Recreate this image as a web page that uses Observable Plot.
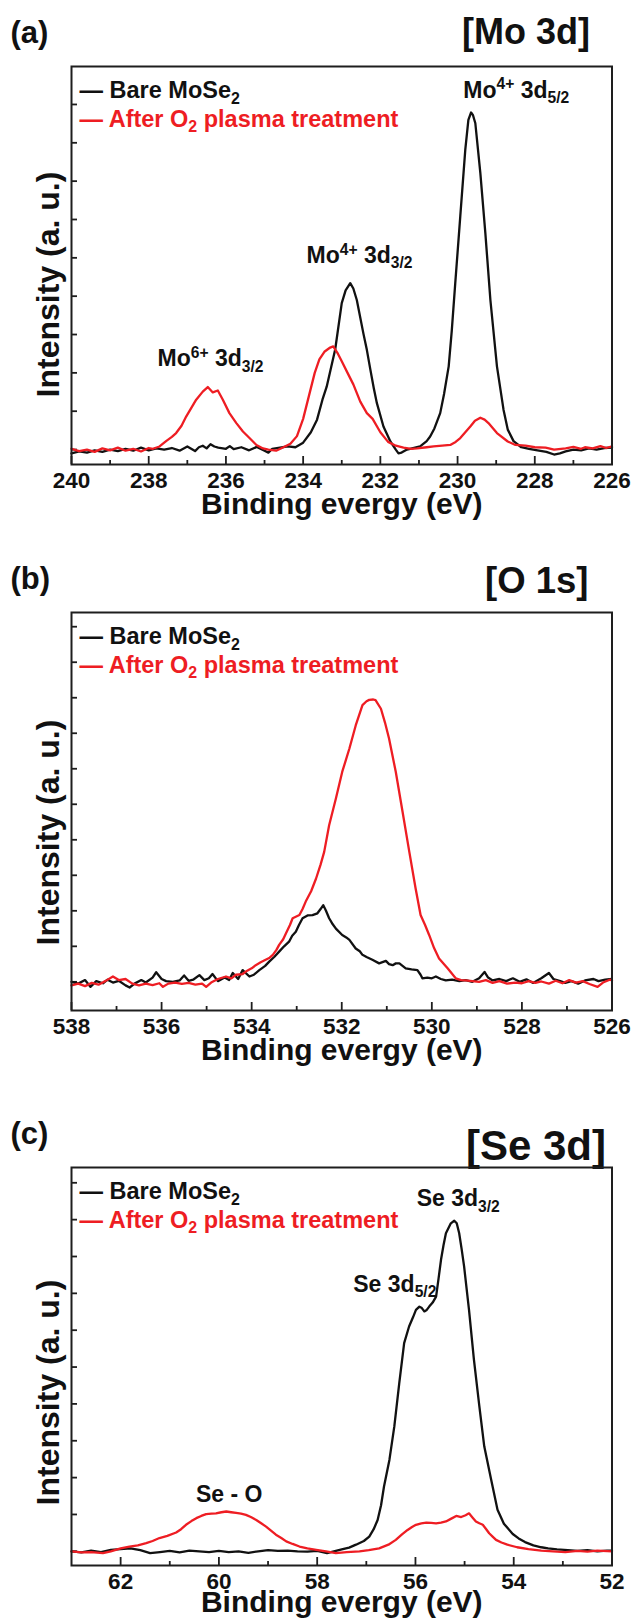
<!DOCTYPE html>
<html><head><meta charset="utf-8">
<script src="https://cdn.jsdelivr.net/npm/d3@7"></script>
<script src="https://cdn.jsdelivr.net/npm/@observablehq/plot@0.6"></script>
<style>
body{margin:0;background:#fff;}
#root{position:relative;width:633px;height:1619px;overflow:hidden;background:#fff;}
#root svg{position:absolute;left:0;overflow:visible;}
</style></head><body><div id="root"></div>
<script>
const FONT = '"Liberation Sans", Arial, Helvetica, sans-serif';
const BLACK = "#111111", RED = "#ee1d23", AXIS = "#1e1e1e";

// ---------- series names ----------
const seriesNames = ["— Bare MoSe_{2}", "— After O_{2} plasma treatment"];
const xTitle = "Binding evergy (eV)";
const yTitle = "Intensity (a. u.)";

// ---------- Panel (a) Mo 3d : [binding energy eV, intensity a.u.] ----------
const mo3dBare = [
[240.0,-0.10],[239.8,-0.05],[239.6,-0.08],[239.4,-0.02],[239.2,-0.06],[239.0,0.00],[238.8,-0.04],[238.6,0.02],
[238.4,-0.03],[238.2,0.05],[238.0,-0.02],[237.8,0.03],[237.6,0.00],[237.4,0.04],[237.2,-0.03],[237.0,0.08],
[236.9,0.02],[236.8,-0.04],[236.7,0.06],[236.6,0.10],[236.5,0.03],[236.4,0.14],[236.3,0.08],[236.2,0.05],
[236.0,0.02],[235.9,0.09],[235.8,0.01],[235.6,0.06],[235.4,-0.02],[235.2,0.07],[235.0,-0.03],[234.9,-0.08],
[234.8,0.02],[234.6,0.05],[234.4,0.08],[234.2,0.06],[234.0,0.18],[233.8,0.45],[233.64,0.78],[233.5,1.30],
[233.39,1.64],[233.17,2.61],[233.0,3.82],[232.9,4.15],[232.78,4.34],[232.7,4.20],[232.61,3.90],[232.44,3.03],
[232.35,2.60],[232.26,2.09],[232.17,1.60],[232.09,1.21],[231.92,0.60],[231.74,0.21],[231.6,0.00],[231.53,-0.10],
[231.45,-0.08],[231.31,0.00],[231.1,0.05],[230.97,0.08],[230.8,0.22],[230.71,0.34],[230.6,0.55],[230.45,0.95],
[230.35,1.45],[230.23,2.17],[230.15,3.10],[230.06,4.34],[229.93,6.08],[229.8,7.82],[229.72,8.60],[229.65,8.79],
[229.6,8.72],[229.54,8.51],[229.41,7.21],[229.28,5.64],[229.15,3.90],[228.98,2.17],[228.81,1.04],[228.7,0.52],
[228.55,0.22],[228.35,0.06],[228.15,0.02],[227.93,-0.02],[227.7,-0.06],[227.5,-0.13],[227.35,-0.10],[227.2,-0.05],
[227.0,0.00],[226.8,-0.02],[226.6,0.03],[226.4,0.00],[226.2,0.04],[226.0,0.05]
];
const mo3dO2 = [
[240.0,0.02],[239.8,-0.04],[239.6,0.00],[239.4,-0.06],[239.2,0.03],[239.0,-0.02],[238.8,0.05],[238.6,-0.03],
[238.4,0.02],[238.2,-0.05],[238.0,0.04],[237.89,0.02],[237.72,0.08],[237.55,0.22],[237.4,0.33],[237.29,0.43],
[237.15,0.62],[237.03,0.86],[236.9,1.08],[236.77,1.30],[236.6,1.51],[236.47,1.63],[236.34,1.49],[236.21,1.54],
[236.08,1.30],[235.91,0.95],[235.73,0.69],[235.56,0.47],[235.39,0.30],[235.21,0.12],[235.04,0.03],[234.9,0.00],
[234.7,-0.03],[234.51,0.06],[234.33,0.15],[234.16,0.35],[234.0,0.80],[233.85,1.40],[233.7,2.00],[233.58,2.35],
[233.45,2.55],[233.3,2.66],[233.22,2.69],[233.1,2.50],[233.0,2.30],[232.85,2.00],[232.7,1.70],[232.52,1.25],
[232.35,0.95],[232.2,0.80],[232.0,0.45],[231.8,0.20],[231.6,0.10],[231.4,0.05],[231.2,0.02],[231.05,0.03],
[230.8,0.06],[230.62,0.08],[230.4,0.10],[230.19,0.12],[230.05,0.20],[229.93,0.30],[229.8,0.45],[229.67,0.60],
[229.55,0.75],[229.41,0.83],[229.3,0.78],[229.2,0.69],[228.98,0.43],[228.7,0.21],[228.5,0.12],[228.24,0.10],
[228.0,0.06],[227.72,0.05],[227.5,0.00],[227.2,0.03],[227.0,0.07],[226.8,0.02],[226.7,0.06],[226.5,0.03],
[226.3,0.09],[226.15,0.04],[226.0,0.08]
];
const mo3dNotes = [
  {e: 236.4, v: 2.17, label: "Mo^{6+} 3d_{3/2}"},
  {e: 232.54, v: 4.87, label: "Mo^{4+} 3d_{3/2}"},
  {e: 228.48, v: 9.18, label: "Mo^{4+} 3d_{5/2}"}
];
const mo3dMajor = [240, 238, 236, 234, 232, 230, 228, 226];
const mo3dMinor = [239, 237, 235, 233, 231, 229, 227];
const mo3dYTicks = [0, 1, 2, 3, 4, 5, 6, 7, 8, 9];

// ---------- Panel (b) O 1s ----------
const o1sBare = [
[538.0,0.00],[537.85,-0.05],[537.7,0.05],[537.58,-0.14],[537.45,0.02],[537.3,-0.04],[537.2,0.06],[537.08,-0.02],
[536.95,0.03],[536.8,-0.10],[536.71,-0.16],[536.6,-0.05],[536.45,0.05],[536.35,-0.02],[536.2,0.12],[536.12,0.27],
[536.0,0.08],[535.9,0.02],[535.75,0.00],[535.6,0.04],[535.5,0.18],[535.4,0.03],[535.3,0.06],[535.16,0.19],
[535.05,0.05],[534.95,0.10],[534.87,0.22],[534.75,0.02],[534.6,0.12],[534.5,0.05],[534.42,0.25],[534.3,0.08],
[534.2,0.33],[534.05,0.15],[533.95,0.20],[533.83,0.33],[533.7,0.45],[533.61,0.57],[533.5,0.70],[533.39,0.85],
[533.28,1.00],[533.17,1.13],[533.1,1.30],[533.02,1.41],[532.95,1.60],[532.87,1.79],[532.76,1.87],[532.65,1.88],
[532.54,1.93],[532.47,2.05],[532.41,2.16],[532.35,2.00],[532.28,1.79],[532.2,1.62],[532.13,1.50],[531.99,1.32],
[531.9,1.25],[531.83,1.18],[531.69,0.94],[531.6,0.86],[531.54,0.76],[531.45,0.70],[531.32,0.62],[531.17,0.52],
[531.02,0.59],[530.95,0.50],[530.87,0.47],[530.8,0.52],[530.72,0.52],[530.65,0.45],[530.58,0.38],[530.45,0.35],
[530.32,0.33],[530.25,0.20],[530.21,0.10],[530.1,0.12],[530.0,0.10],[529.91,0.15],[529.8,0.08],[529.69,0.04],
[529.55,0.06],[529.39,0.02],[529.25,0.05],[529.1,0.00],[528.95,0.10],[528.83,0.28],[528.75,0.12],[528.65,0.04],
[528.5,0.08],[528.35,0.02],[528.2,0.10],[528.05,0.00],[527.9,0.07],[527.75,-0.03],[527.57,0.10],[527.4,0.25],
[527.3,0.08],[527.15,0.02],[527.04,-0.03],[526.9,0.02],[526.75,-0.05],[526.6,0.04],[526.41,0.08],[526.3,0.02],
[526.15,0.06],[526.0,0.08]
];
const o1sO2 = [
[538.0,-0.10],[537.85,-0.05],[537.7,-0.12],[537.55,-0.03],[537.4,-0.08],[537.25,0.02],[537.08,0.15],[536.95,0.05],
[536.8,0.08],[536.65,-0.05],[536.5,-0.10],[536.35,-0.05],[536.2,-0.09],[536.05,-0.04],[535.97,-0.14],[535.85,-0.05],
[535.7,-0.02],[535.55,-0.06],[535.4,-0.03],[535.25,-0.08],[535.1,-0.05],[535.01,-0.14],[534.9,-0.02],[534.75,0.08],
[534.57,0.15],[534.45,0.10],[534.35,0.20],[534.2,0.22],[534.13,0.29],[534.0,0.38],[533.91,0.47],[533.8,0.55],
[533.69,0.62],[533.6,0.68],[533.53,0.76],[533.45,0.90],[533.39,1.04],[533.3,1.20],[533.24,1.36],[533.15,1.60],
[533.09,1.79],[532.94,1.88],[532.87,2.05],[532.8,2.26],[532.68,2.55],[532.57,2.91],[532.47,3.30],[532.39,3.66],
[532.28,4.41],[532.13,5.16],[531.99,5.91],[531.83,6.57],[531.69,7.22],[531.54,7.79],[531.45,7.90],[531.39,7.94],
[531.3,7.95],[531.25,7.93],[531.13,7.69],[531.04,7.30],[530.95,6.85],[530.8,5.91],[530.65,4.79],[530.5,3.66],
[530.36,2.63],[530.25,1.88],[530.15,1.60],[530.06,1.32],[529.95,0.95],[529.84,0.66],[529.65,0.38],[529.47,0.10],
[529.35,0.05],[529.25,0.04],[529.1,0.02],[528.95,0.00],[528.8,0.05],[528.65,-0.03],[528.5,0.02],[528.33,-0.05],
[528.15,-0.02],[528.0,-0.04],[527.85,0.02],[527.7,-0.03],[527.57,0.01],[527.4,-0.05],[527.25,0.03],[527.1,-0.04],
[526.95,0.05],[526.8,-0.02],[526.65,0.02],[526.5,-0.06],[526.32,-0.14],[526.2,-0.02],[526.05,0.06],[526.0,0.04]
];
const o1sNotes = [];
const o1sMajor = [538, 536, 534, 532, 530, 528, 526];
const o1sMinor = [537, 535, 533, 531, 529, 527];
const o1sYTicks = [0, 1, 2, 3, 4, 5, 6, 7, 8, 9, 10];

// ---------- Panel (c) Se 3d ----------
const se3dBare = [
[63.0,0.00],[62.8,-0.03],[62.6,0.02],[62.4,-0.02],[62.2,0.04],[62.0,0.06],[61.8,0.08],[61.6,0.03],
[61.4,-0.05],[61.2,-0.02],[61.0,0.01],[60.8,-0.03],[60.6,0.02],[60.4,0.00],[60.2,-0.02],[60.0,0.01],
[59.8,-0.02],[59.6,0.00],[59.4,-0.04],[59.2,0.00],[59.0,0.03],[58.8,0.01],[58.6,0.02],[58.4,0.00],
[58.2,-0.01],[58.0,0.01],[57.8,-0.05],[57.6,0.02],[57.48,0.06],[57.35,0.10],[57.21,0.18],[57.05,0.28],
[56.94,0.40],[56.85,0.60],[56.77,0.85],[56.7,1.25],[56.64,1.76],[56.53,2.48],[56.43,3.39],[56.33,4.56],
[56.23,5.65],[56.13,6.10],[56.05,6.35],[55.99,6.55],[55.92,6.64],[55.87,6.60],[55.82,6.51],[55.77,6.55],
[55.72,6.64],[55.65,6.75],[55.58,6.91],[55.53,7.40],[55.48,7.91],[55.43,8.30],[55.38,8.63],[55.28,8.90],
[55.21,8.97],[55.16,8.90],[55.11,8.63],[55.06,8.20],[55.01,7.73],[54.91,6.55],[54.81,5.20],[54.7,3.94],
[54.6,2.85],[54.46,1.95],[54.33,1.13],[54.2,0.75],[54.02,0.47],[53.9,0.35],[53.77,0.25],[53.6,0.16],
[53.44,0.11],[53.3,0.08],[53.12,0.05],[52.9,0.03],[52.7,0.01],[52.5,0.03],[52.3,0.00],[52.1,0.02],[52.0,0.02]
];
const se3dO2 = [
[63.0,0.00],[62.8,-0.03],[62.6,-0.02],[62.36,-0.05],[62.2,0.00],[62.0,0.08],[61.82,0.13],[61.65,0.16],
[61.48,0.22],[61.35,0.28],[61.21,0.36],[61.05,0.42],[60.87,0.51],[60.77,0.60],[60.67,0.72],[60.56,0.82],
[60.46,0.90],[60.36,0.96],[60.26,1.01],[60.15,1.02],[60.06,1.03],[59.95,1.06],[59.85,1.08],[59.75,1.06],
[59.65,1.04],[59.55,1.02],[59.45,0.99],[59.35,0.93],[59.24,0.85],[59.14,0.76],[59.04,0.67],[58.94,0.56],
[58.84,0.45],[58.73,0.36],[58.63,0.27],[58.5,0.20],[58.36,0.13],[58.2,0.08],[58.02,0.04],[57.82,0.00],
[57.62,-0.05],[57.4,-0.02],[57.14,0.00],[56.95,0.03],[56.74,0.08],[56.55,0.18],[56.4,0.31],[56.28,0.45],
[56.16,0.58],[56.07,0.66],[55.99,0.72],[55.88,0.76],[55.78,0.78],[55.68,0.77],[55.58,0.76],[55.48,0.78],
[55.38,0.81],[55.28,0.88],[55.17,0.96],[55.07,0.93],[54.98,0.98],[54.91,1.03],[54.84,0.92],[54.77,0.81],
[54.7,0.76],[54.63,0.72],[54.56,0.60],[54.5,0.49],[54.43,0.40],[54.36,0.31],[54.25,0.24],[54.13,0.18],
[53.93,0.11],[53.7,0.06],[53.44,0.02],[53.2,0.00],[52.95,-0.02],[52.7,0.01],[52.5,-0.01],[52.3,0.02],[52.0,0.00]
];
const se3dNotes = [
  {e: 55.13, v: 9.36, label: "Se 3d_{3/2}"},
  {e: 56.42, v: 7.05, label: "Se 3d_{5/2}"},
  {e: 59.79, v: 1.35, label: "Se - O"}
];
const se3dMajor = [62, 60, 58, 56, 54, 52];
const se3dMinor = [61, 59, 57, 55, 53];
const se3dYTicks = [0, 1, 2, 3, 4, 5, 6, 7, 8, 9, 10];

// ---------- panel definitions ----------
const panels = [
  {top: 0, tag: "(a)", title: "[Mo 3d]", titleSize: 36, titleDx: -22, titleDy: -23,
   xDomain: [240, 226], yDomain: [-0.39, 9.99], major: mo3dMajor, minor: mo3dMinor, yTicks: mo3dYTicks,
   bare: mo3dBare, o2: mo3dO2, notes: mo3dNotes, yShift: 19, xTitleDy: 49},
  {top: 546.3, tag: "(b)", title: "[O 1s]", titleSize: 36.5, titleDx: -23.5, titleDy: -20,
   xDomain: [538, 526], yDomain: [-0.807, 10.40], major: o1sMajor, minor: o1sMinor, yTicks: o1sYTicks,
   bare: o1sBare, o2: o1sO2, notes: o1sNotes, yShift: 21, xTitleDy: 49},
  {top: 1100.7, tag: "(c)", title: "[Se 3d]", titleSize: 42, titleDx: -6, titleDy: -8,
   xDomain: [63, 52], yDomain: [-0.385, 10.415], major: se3dMajor, minor: se3dMinor, yTicks: se3dYTicks,
   bare: se3dBare, o2: se3dO2, notes: se3dNotes, yShift: 26, xTitleDy: 46}
];

function rich(svg) {
  svg.querySelectorAll("text").forEach(t => {
    const s = t.textContent;
    if (!/[\^_]\{/.test(s)) return;
    const F = parseFloat(getComputedStyle(t).fontSize);
    const parts = s.match(/\^\{[^}]*\}|_\{[^}]*\}|[^\^_]+/g);
    while (t.firstChild) t.removeChild(t.firstChild);
    t.style.whiteSpace = "pre";
    let shift = 0;
    for (const p of parts) {
      let txt = p, target = 0, size = null;
      if (p.startsWith("^{")) { txt = p.slice(2, -1); target = -0.36 * F; size = 0.68 * F; }
      else if (p.startsWith("_{")) { txt = p.slice(2, -1); target = 0.24 * F; size = 0.68 * F; }
      const ts = document.createElementNS("http://www.w3.org/2000/svg", "tspan");
      ts.textContent = txt;
      if (target !== shift) ts.setAttribute("dy", (target - shift).toFixed(2));
      if (size) ts.setAttribute("font-size", size.toFixed(2));
      t.appendChild(ts);
      shift = target;
    }
  });
}

const root = document.getElementById("root");
const fmtNone = () => "";

for (const p of panels) {
  const svg = Plot.plot({
    width: 633, height: 520,
    marginTop: 66, marginBottom: 56, marginLeft: 71, marginRight: 21.5,
    x: {domain: p.xDomain},
    y: {domain: p.yDomain},
    style: {fontFamily: FONT, fontWeight: "bold", background: "transparent", overflow: "visible"},
    marks: [
      Plot.axisX({ticks: p.major, tickSize: 8, dy: -8, tickFormat: fmtNone, label: null, stroke: AXIS, strokeWidth: 1.8}),
      Plot.axisX({ticks: p.minor, tickSize: 4, dy: -4, tickFormat: fmtNone, label: null, stroke: AXIS, strokeWidth: 1.8}),
      Plot.axisY({ticks: p.yTicks, tickSize: 6, dx: 6, tickFormat: fmtNone, label: null, stroke: AXIS, strokeWidth: 1.8}),
      Plot.text(p.major, {x: d => d, text: d => String(d), frameAnchor: "bottom", dy: 23, lineAnchor: "bottom",
        fontSize: 22.5, fontWeight: "bold", fill: BLACK}),
      Plot.text([xTitle], {text: d => d, frameAnchor: "bottom", dy: p.xTitleDy, lineAnchor: "bottom",
        fontSize: 30, fontWeight: "bold", fill: BLACK}),
      Plot.text([yTitle], {text: d => d, frameAnchor: "left", rotate: -90, dx: -12.7, dy: p.yShift,
        lineAnchor: "bottom", textAnchor: "middle", fontSize: 32, fontWeight: "bold", fill: BLACK}),
      Plot.text([p.tag], {text: d => d, frameAnchor: "top-left", dx: -61, dy: -24, textAnchor: "start",
        lineAnchor: "bottom", fontSize: 31, fontWeight: "bold", fill: BLACK}),
      Plot.text([p.title], {text: d => d, frameAnchor: "top-right", dx: p.titleDx, dy: p.titleDy, textAnchor: "end",
        lineAnchor: "bottom", fontSize: p.titleSize, fontWeight: "bold", fill: BLACK}),
      Plot.text([seriesNames[0]], {text: d => d, frameAnchor: "top-left", dx: 8, dy: 31.7, textAnchor: "start",
        lineAnchor: "bottom", fontSize: 23.5, fontWeight: "bold", fill: BLACK}),
      Plot.text([seriesNames[1]], {text: d => d, frameAnchor: "top-left", dx: 8, dy: 60, textAnchor: "start",
        lineAnchor: "bottom", fontSize: 23.5, fontWeight: "bold", fill: RED}),
      Plot.line(p.bare, {x: d => d[0], y: d => d[1], stroke: BLACK, strokeWidth: 2.3, curve: "linear"}),
      Plot.line(p.o2, {x: d => d[0], y: d => d[1], stroke: RED, strokeWidth: 2.3, curve: "linear"}),
      Plot.text(p.notes, {x: "e", y: "v", text: "label", textAnchor: "middle", lineAnchor: "bottom",
        fontSize: 23, fontWeight: "bold", fill: BLACK}),
      Plot.frame({stroke: AXIS, strokeWidth: 2})
    ]
  });
  svg.style.top = p.top + "px";
  root.appendChild(svg);
  rich(svg);
}
</script></body></html>
